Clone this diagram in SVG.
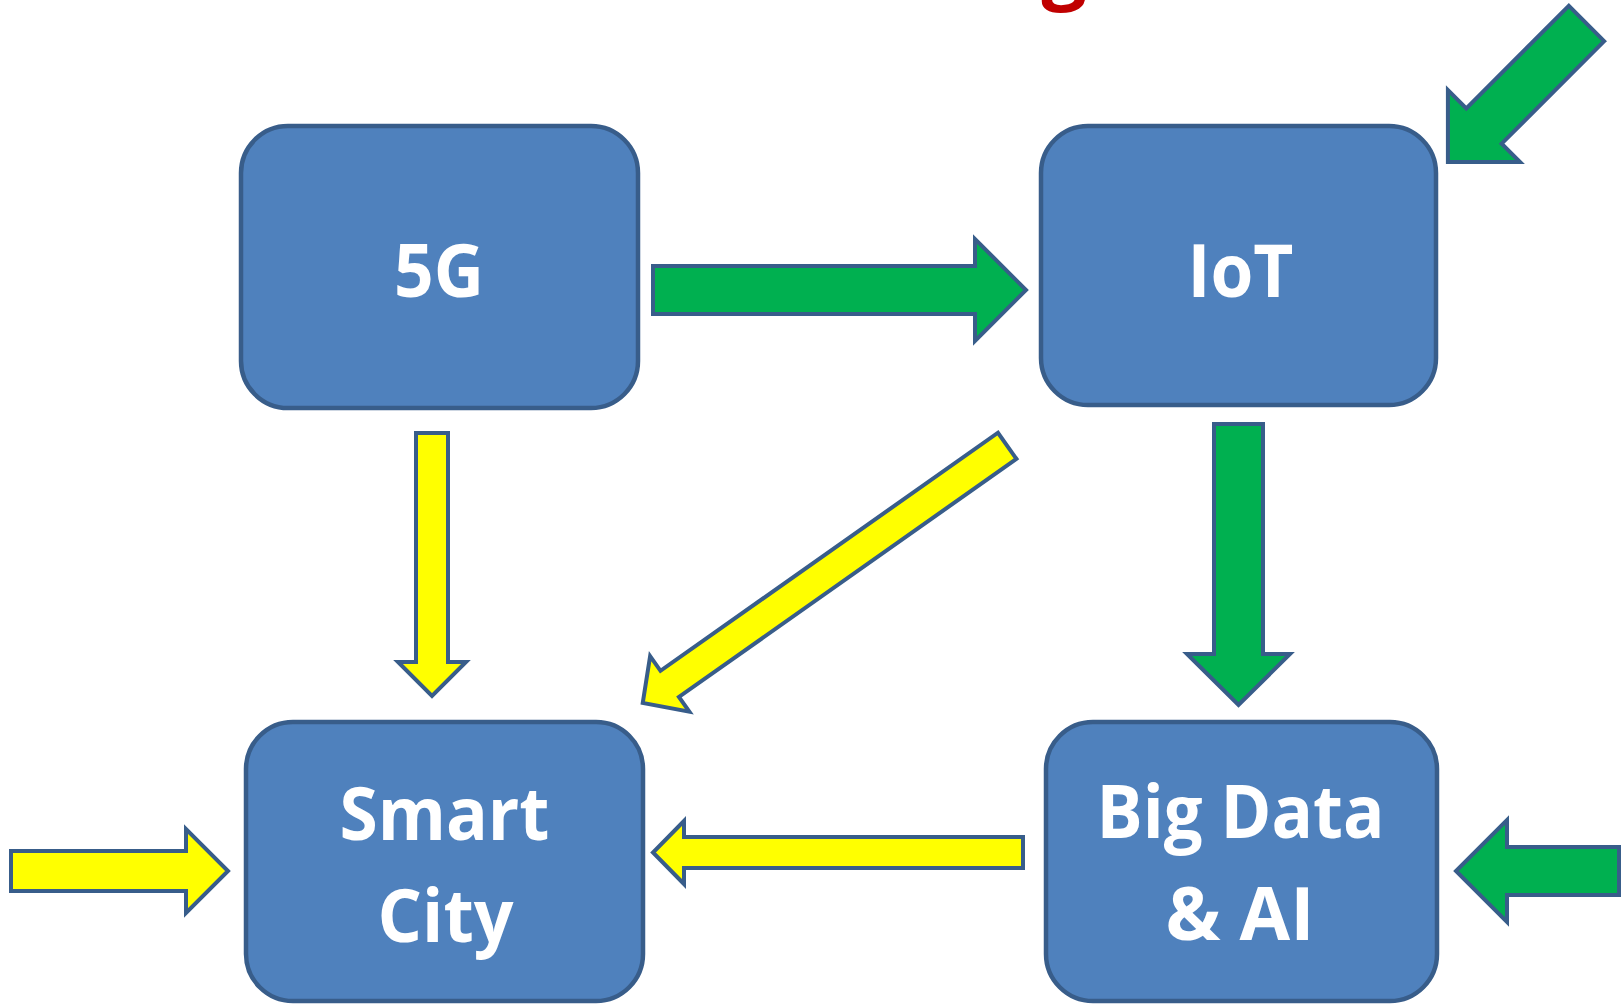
<svg xmlns="http://www.w3.org/2000/svg" width="1621" height="1004" viewBox="0 0 1621 1004">
<style>
  .box { fill: #4F81BD; stroke: #385D8A; stroke-width: 4.5; }
  .lbl { font-family: "Open Sans", "Liberation Sans", sans-serif; font-weight: 700; font-size: 74px; fill: #FFFFFF; text-anchor: middle; }
  .ag { fill: #00B050; stroke: #385D8A; stroke-width: 4; stroke-linejoin: miter; }
  .ay { fill: #FFFF00; stroke: #385D8A; stroke-width: 4; stroke-linejoin: miter; }
  .title { font-family: "Open Sans", "Liberation Sans", sans-serif; font-weight: 700; font-size: 80px; fill: #C00000; text-anchor: middle; }
</style>
<rect width="1621" height="1004" fill="#FFFFFF"/>
<text class="title" x="1064" y="-6">g</text>

<g id="connectors">
  <polygon id="a-5g-iot" class="ag" points="653,266 975,266 975,239 1026,290 975,341 975,314 653,314"/>
  <polygon id="a-iot-bigdata" class="ag" points="1214,424 1263,424 1263,654 1290,654 1238.5,705 1187,654 1214,654"/>
  <polygon id="a-in-bigdata" class="ag" points="1619,847 1507,847 1507,820 1456,871 1507,922 1507,895 1619,895"/>
  <polygon id="a-in-iot" class="ag" transform="translate(1586.5,23.5) rotate(135)" points="0,-25 145,-25 145,-51 196,0 145,51 145,25 0,25"/>
  <polygon id="a-5g-city" class="ay" points="416,433 448,433 448,662 466,662 432,696 398,662 416,662"/>
  <polygon id="a-bigdata-city" class="ay" points="1023,837 684,837 684,821 653,852.5 684,884 684,868 1023,868"/>
  <polygon id="a-in-city" class="ay" points="11,851 186,851 186,829 228,871 186,913 186,891 11,891"/>
  <polygon id="a-iot-city" class="ay" transform="translate(1007.2,445.8) rotate(144.8)" points="0,-16 413,-16 413,-34 446,0 413,34 413,16 0,16"/>
</g>

<g id="node-5g">
  <rect class="box" x="241" y="126" width="397" height="282" rx="47" ry="47"/>
  <text class="lbl" x="439" y="297" textLength="90" lengthAdjust="spacingAndGlyphs">5G</text>
</g>
<g id="node-iot">
  <rect class="box" x="1041" y="126" width="395" height="279" rx="47" ry="47"/>
  <text class="lbl" x="1240.5" y="297" textLength="106" lengthAdjust="spacingAndGlyphs">IoT</text>
</g>
<g id="node-smartcity">
  <rect class="box" x="246" y="722" width="397" height="279" rx="47" ry="47"/>
  <text class="lbl" x="444.5" y="840" textLength="210" lengthAdjust="spacingAndGlyphs">Smart</text>
  <text class="lbl" x="445.5" y="942" textLength="136" lengthAdjust="spacingAndGlyphs">City</text>
</g>
<g id="node-bigdata">
  <rect class="box" x="1046" y="722" width="391" height="279" rx="47" ry="47"/>
  <text class="lbl" x="1240.5" y="838" textLength="288" lengthAdjust="spacingAndGlyphs">Big Data</text>
  <text class="lbl" x="1240" y="940" textLength="149" lengthAdjust="spacingAndGlyphs">&amp; AI</text>
</g>
</svg>
